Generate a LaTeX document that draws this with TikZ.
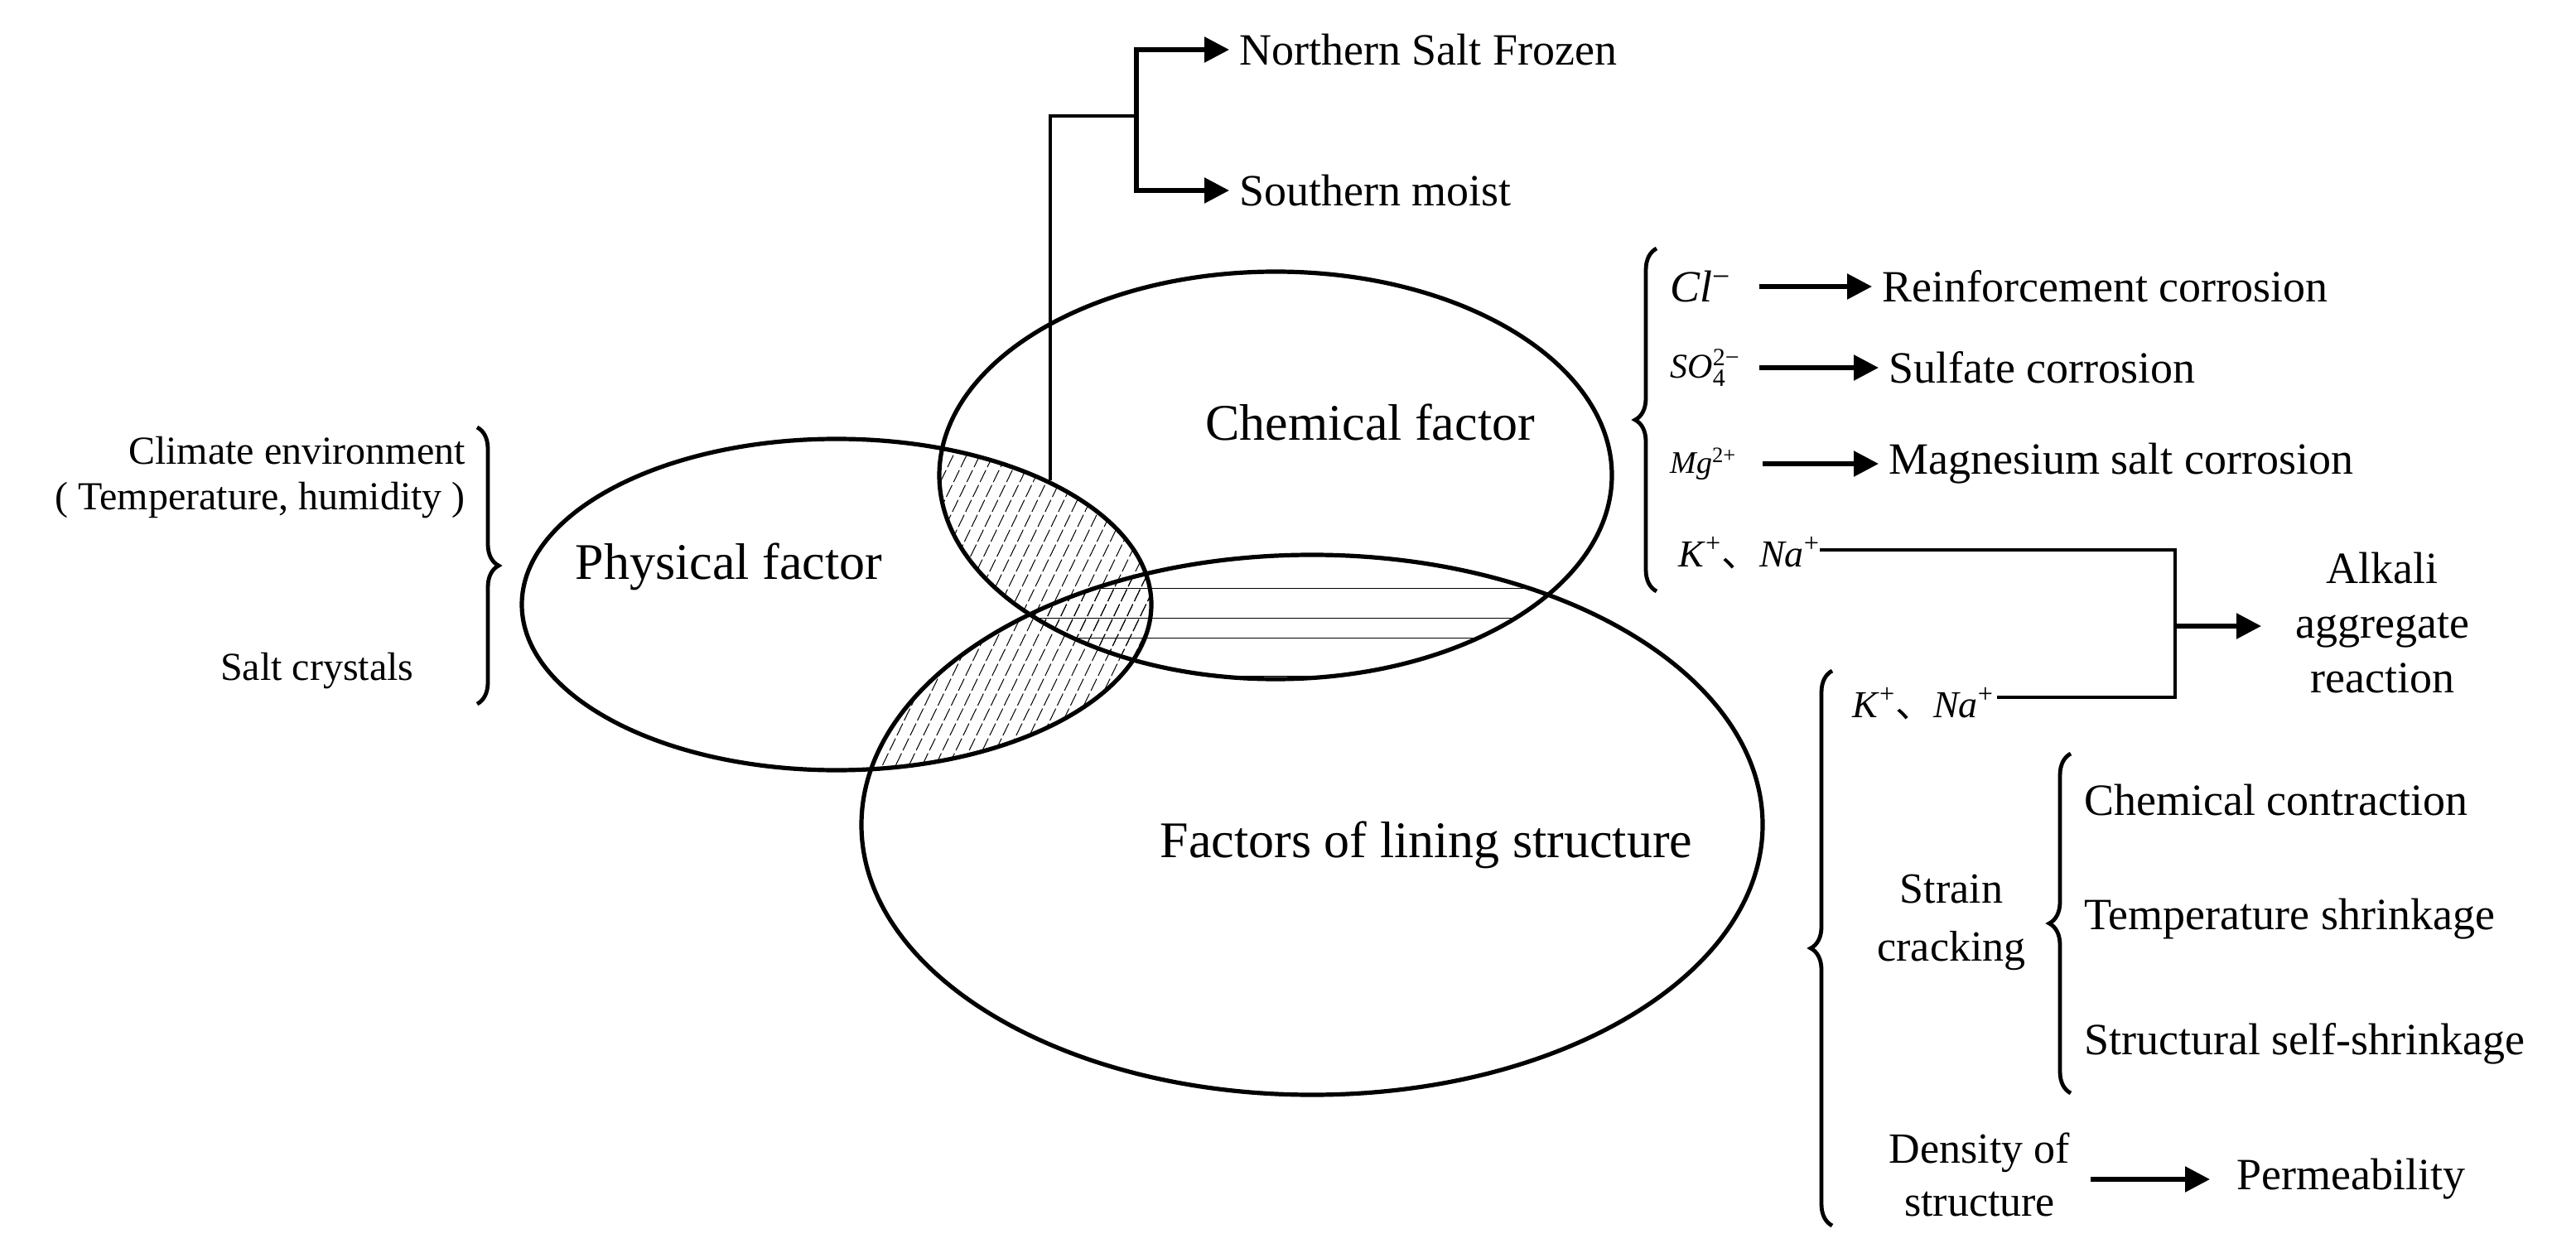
\documentclass[tikz,border=0pt]{standalone}
\usepackage{fontspec}
\setmainfont{Liberation Serif}
\newfontfamily\cjk{Noto Sans CJK SC}
\usetikzlibrary{shapes.geometric,arrows.meta,decorations.pathreplacing}
\newcommand{\ion}[2]{\textit{#1}\textsuperscript{#2}}
\begin{document}
\begin{tikzpicture}[x=1pt,y=-1pt,
  ell/.style={draw,ellipse,line width=2.6pt,inner sep=0pt},
  big/.style={font=\fontsize{31}{36}\selectfont,inner sep=0pt},
  item/.style={font=\fontsize{27}{32}\selectfont,inner sep=0pt,anchor=west},
  small/.style={font=\fontsize{24}{28}\selectfont,inner sep=0pt},
  con/.style={line width=2pt},
  arr/.style={line width=2.8pt,-{Triangle[length=15pt,width=15pt]}},
  brc/.style={line width=2.4pt,decorate,decoration={brace,amplitude=13pt}},
  hat/.style={line width=0.5pt}]
\useasboundingbox (0,0) rectangle (1555,756.5);
% hatching
\begin{scope}
 \clip (505,365) ellipse [x radius=190pt, y radius=100pt];
 \clip (770,287) ellipse [x radius=203pt, y radius=123pt];
 \foreach \i in {0,...,50} \draw[hat,dash pattern=on 8pt off 2pt] (300+\i*8,480) -- ++(160,-330);
\end{scope}
\begin{scope}
 \clip (505,365) ellipse [x radius=190pt, y radius=100pt];
 \clip (792,498) ellipse [x radius=272pt, y radius=163pt];
 \foreach \i in {0,...,50} \draw[hat,dash pattern=on 8pt off 2pt] (300+\i*8,480) -- ++(160,-330);
\end{scope}
\begin{scope}
 \clip (770,287) ellipse [x radius=203pt, y radius=123pt];
 \clip (792,498) ellipse [x radius=272pt, y radius=163pt];
 \foreach \yy in {355,373,385,408} \draw[hat] (560,\yy) -- (1000,\yy);
\end{scope}
% ellipses
\node[ell,minimum width=380pt,minimum height=200pt] (phys) at (505,365) {};
\node[ell,minimum width=406pt,minimum height=246pt] (chem) at (770,287) {};
\node[ell,minimum width=544pt,minimum height=326pt] (lin) at (792,498) {};
\node[big] (tphys) at (440,342) {Physical factor};
\node[big] (tchem) at (827,255) {Chemical factor};
\node[big] (tlin) at (861,510) {Factors of lining structure};
% north/south
\coordinate (c0) at (634,290);
\coordinate (c1) at (634,70);
\coordinate (c2) at (686,70);
\node[item] (north) at (748,30) {Northern Salt Frozen};
\node[item] (south) at (748,115) {Southern moist};
\draw[con] (c0) -- (c1) -- (c2);
\draw[arr] (686,70) |- ([xshift=-6pt]north.west);
\draw[arr] (686,70) |- ([xshift=-6pt]south.west);
% left brace
\node[small,anchor=east] (clim) at (281,272) {Climate environment};
\node[small,anchor=east] (temp) at (281,302) {( Temperature, humidity )};
\node[small,anchor=east] (salt) at (250,405) {Salt crystals};
\draw[brc] (288,258) -- (288,425);
% chemical brace
\draw[brc] (1000,357) -- (1000,150);
\node[item] (cl) at (1008,173) {\ion{Cl}{−}};
\node[item] (so) at (1008,222) {\fontsize{21}{26}\selectfont\textit{SO}$_{\textup{\fontsize{15}{15}\selectfont 4}}^{\textup{\fontsize{15}{15}\selectfont 2−}}$};
\node[item] (mg) at (1008,280) {\fontsize{19}{24}\selectfont\ion{Mg}{2+}};
\node[item] (k1) at (1013,334) {\fontsize{23}{26}\selectfont\ion{K}{+}{\cjk 、}\ion{Na}{+}};
\node[item] (rc) at (1136,173) {Reinforcement corrosion};
\node[item] (sc) at (1140,222) {Sulfate corrosion};
\node[item] (mc) at (1140,280) {Magnesium salt corrosion};
\draw[arr] (1062,173) -- ([xshift=-6pt]rc.west);
\draw[arr] (1062,222) -- ([xshift=-6pt]sc.west);
\draw[arr] (1064,280) -- ([xshift=-6pt]mc.west);
\node[item,anchor=center,align=center,font=\fontsize{27}{33}\selectfont] (aar) at (1438,376) {Alkali\\aggregate\\reaction};
\coordinate (j) at (1313,378);
\draw[con] ([yshift=2pt]k1.east) -| (j);
\node[item] (k2) at (1118,425) {\fontsize{23}{26}\selectfont\ion{K}{+}{\cjk 、}\ion{Na}{+}};
\draw[con] ([xshift=2pt,yshift=4pt]k2.east) -| (j);
\draw[arr] (j) -- (1365,378);
% lining brace
\draw[brc] (1106,740) -- (1106,405);
\node[item,anchor=center,align=center,font=\fontsize{26}{35}\selectfont] (strain) at (1178,557) {Strain\\cracking};
\draw[brc] (1250,660) -- (1250,455);
\node[item] (cc) at (1258,483) {Chemical contraction};
\node[item] (ts) at (1258,555) {Temperature shrinkage};
\node[item] (ss) at (1258,630) {Structural self-shrinkage};
\node[item,anchor=center,align=center,font=\fontsize{26}{32}\selectfont] (dens) at (1195,709) {Density of\\structure};
\node[item] (perm) at (1350,712) {Permeability};
\draw[arr] (1262,712) -- (1334,712);
\end{tikzpicture}
\end{document}
